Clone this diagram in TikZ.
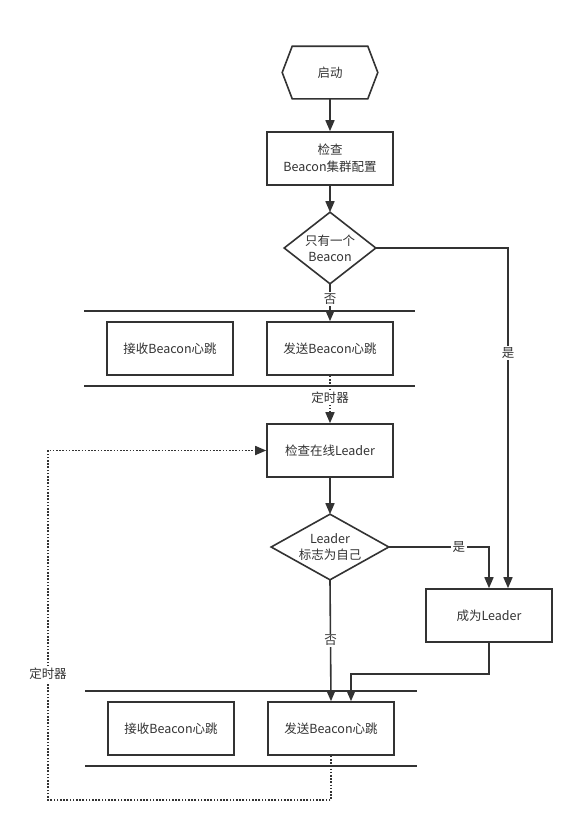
\documentclass[tikz,border=0pt]{standalone}
\usepackage{fontspec}
\setmainfont{Noto Sans CJK SC}
\usetikzlibrary{arrows.meta}
\definecolor{ink}{RGB}{51,51,51}
\begin{document}
\begin{tikzpicture}[x=1pt,y=-1pt,line width=1.6pt,color=ink,
    font=\fontsize{12.5}{16}\selectfont,
    box/.style={draw,minimum width=126,minimum height=53,align=center},
    frame/.style={inner sep=0,align=center},
    lbl/.style={fill=white,inner sep=1.5pt},
    arr/.style={-{Triangle[length=11pt,width=9pt]}},
    timer/.style={dash pattern=on 1.6pt off 1.6pt}]
    \useasboundingbox[fill=white] (0,0) rectangle (584,831);
    % lanes
    \draw (84,311) -- (415,311);
    \draw (84,386) -- (415,386);
    \draw (85,691) -- (417,691);
    \draw (85,766) -- (417,766);
    % nodes
    \node[frame,minimum width=94,minimum height=51] (start) at (330,72.5) {启动};
    \draw (start.west) -- ([xshift=10pt]start.north west) -- ([xshift=-10pt]start.north east)
      -- (start.east) -- ([xshift=-10pt]start.south east) -- ([xshift=10pt]start.south west) -- cycle;
    \node[box] (cfg) at (330,158.5) {检查\\[1pt]Beacon集群配置};
    \node[frame,minimum width=90,minimum height=70] (one) at (330,248) {只有一个\\Beacon};
    \draw (one.north) -- (one.east) -- (one.south) -- (one.west) -- cycle;
    \node[box] (recvA) at (170,348.5) {接收Beacon心跳};
    \node[box] (sendA) at (330,348.5) {发送Beacon心跳};
    \node[box] (check) at (330,450.5) {检查在线Leader};
    \node[frame,minimum width=116,minimum height=64] (self) at (330,547) {Leader\\标志为自己};
    \draw (self.north) -- (self.east) -- (self.south) -- (self.west) -- cycle;
    \node[box] (lead) at (489,615.5) {成为Leader};
    \node[box] (recvB) at (171,728.5) {接收Beacon心跳};
    \node[box] (sendB) at (331,728.5) {发送Beacon心跳};
    \coordinate (turn) at (48,800);
    % connectors
    \draw[arr] (start) -- (cfg);
    \draw[arr] (cfg) -- (one);
    \draw[arr] (one.south) -- node[lbl,pos=0.4] {否} (sendA.north);
    \draw[arr] (one.east) -| node[lbl,pos=0.654] {是} ([xshift=19pt]lead.north);
    \draw[arr,timer] (sendA.south) -- node[lbl,pos=0.47] {定时器} (check.north);
    \draw[arr] (check) -- (self);
    \draw[arr] (self.east) -| node[lbl,pos=0.35] {是} (lead.north);
    \draw[arr] (self.south) -- node[lbl] {否} (sendB.north);
    \draw[arr] (lead.south) -- ++(0,31) -| ([xshift=20pt]sendB.north);
    \draw[arr,timer] (sendB.south) |- (turn) |- node[lbl,pos=0.18] {定时器} (check.west);
\end{tikzpicture}
\end{document}
